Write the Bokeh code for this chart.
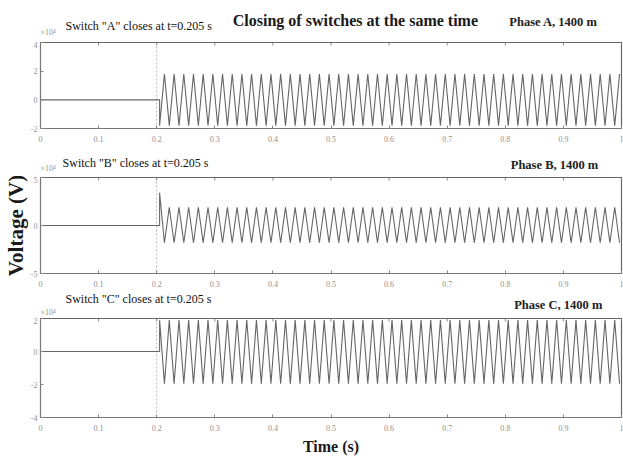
import math
from bokeh.plotting import figure
from bokeh.layouts import column
from bokeh.models import Range1d, FixedTicker, Span
from bokeh.core.properties import value
from bokeh.embed import file_html
from bokeh.resources import INLINE

# ---- data -------------------------------------------------------------
t_start = 0.0
t_end = 1.0
t_close = 0.205            # switch closing instant (s)
mains_freq = 60.0          # Hz
close_marker_t = 0.2       # dashed guide at the closing region

x_ticks = [0, 0.1, 0.2, 0.3, 0.4, 0.5, 0.6, 0.7, 0.8, 0.9, 1.0]
x_tick_labels = ["0", "0.1", "0.2", "0.3", "0.4", "0.5", "0.6", "0.7", "0.8", "0.9", "1"]

phases = ["A", "B", "C"]
pre_level = {"A": 0.0, "B": 0.0, "C": 0.0}         # voltage before closing (x10^4 V)
first_value = {"A": -1.8, "B": 3.4, "C": 1.9}      # value right at closing
peak = {"A": 1.8, "B": 1.9, "C": 1.9}              # steady-state positive peak
trough = {"A": -1.8, "B": -1.8, "C": -1.95}        # steady-state negative peak
first_sign = {"A": 1, "B": -1, "C": -1}            # which extreme follows the closing

y_limits = {"A": (-2, 4), "B": (-5, 5), "C": (-4, 2)}
y_ticks = {"A": [-2, 0, 2, 4], "B": [-5, 0, 5], "C": [-4, -2, 0, 2]}
switch_text = {p: 'Switch "%s" closes at t=0.205 s' % p for p in phases}
phase_text = {"A": "Phase A, 1400 m", "B": "Phase B, 1400 m", "C": "Phase C, 1400 m"}
title_text = "Closing of switches at the same time"
exp_text = "\u00d710\u2074"

# ---- layout (pixels) --------------------------------------------------
W = 623
LEFT, RIGHT = 40, 2
strip_h = {"A": 41, "B": 26, "C": 27}          # text band above each panel
frame_h = {"A": 86, "B": 96, "C": 99}
bottom_h = {"A": 22, "B": 17, "C": 44}
# text placement inside each band: (x in time units, y in px from band top)
sw_pos = {"A": (0.043, 25), "B": (0.038, 12), "C": (0.043, 8)}
ph_pos = {"A": (0.9587, 21), "B": (0.960, 14), "C": (0.967, 14)}
exp_pos = {"A": (0.0, 32), "B": (0.0, 18), "C": (0.0, 22)}
title_pos = (0.542, 20)

SERIF = "Liberation Serif"
LINE = "#666666"
TICK_TXT = "#8f8f8f"


def waveform(ph):
    """Pre-closing level, then alternating extremes every half cycle."""
    ts = [t_start, t_close, t_close]
    vs = [pre_level[ph], pre_level[ph], first_value[ph]]
    half = 1.0 / (2 * mains_freq)
    k = 1
    sign = first_sign[ph]
    while t_close + k * half <= t_end:
        ts.append(t_close + k * half)
        vs.append(peak[ph] if sign > 0 else trough[ph])
        sign = -sign
        k += 1
    return ts, vs


def style_axis(ax, ticks, labels, standoff):
    ax.ticker = FixedTicker(ticks=ticks)
    ax.major_tick_in = 3
    ax.major_tick_out = 0
    ax.minor_tick_line_color = None
    ax.axis_line_color = "#777777"
    ax.major_tick_line_color = "#888888"
    ax.major_label_text_font = SERIF
    ax.major_label_text_color = TICK_TXT
    ax.major_label_text_font_size = "8px"
    ax.major_label_standoff = standoff
    ax.major_label_overrides = {t: s for t, s in zip(ticks, labels)}


def band(ph):
    h = strip_h[ph]
    s = figure(width=W, height=h, output_backend="svg", toolbar_location=None,
               x_range=Range1d(t_start, t_end), y_range=Range1d(h, 0),
               x_axis_type=None, y_axis_type=None,
               min_border_left=LEFT, min_border_right=RIGHT,
               min_border_top=0, min_border_bottom=0,
               background_fill_color="white", border_fill_color="white")
    s.grid.visible = False
    s.outline_line_color = None
    sx, sy = sw_pos[ph]
    s.text(x=[sx], y=[sy], text=[switch_text[ph]], text_font=value(SERIF),
           text_font_size="12px", text_color="#111111",
           text_align="left", text_baseline="middle")
    px_, py_ = ph_pos[ph]
    s.text(x=[px_], y=[py_], text=[phase_text[ph]], text_font=value(SERIF),
           text_font_size="12.5px", text_font_style="bold", text_color="#222222",
           text_align="right", text_baseline="middle")
    ex, ey = exp_pos[ph]
    s.text(x=[ex], y=[ey], text=[exp_text], text_font=value(SERIF),
           text_font_size="8px", text_color=TICK_TXT,
           text_align="left", text_baseline="middle")
    return s


def panel(ph):
    lo, hi = y_limits[ph]
    h = 1 + frame_h[ph] + bottom_h[ph]
    p = figure(width=W, height=h, output_backend="svg", toolbar_location=None,
               x_range=Range1d(t_start, t_end), y_range=Range1d(lo, hi),
               min_border_left=LEFT, min_border_right=RIGHT,
               min_border_top=1, min_border_bottom=bottom_h[ph],
               background_fill_color="white", border_fill_color="white")
    p.grid.visible = False
    p.outline_line_color = "#666666"
    p.outline_line_width = 1.2
    style_axis(p.xaxis[0], x_ticks, x_tick_labels, 7)
    style_axis(p.yaxis[0], y_ticks[ph], [str(v) for v in y_ticks[ph]], 3)

    # inward tick marks along the top edge
    p.ray(x=x_ticks, y=[hi] * len(x_ticks), length=3, length_units="screen",
          angle=-math.pi / 2, line_color="#888888", line_width=1)

    p.add_layout(Span(location=close_marker_t, dimension="height", line_color="#b0b0b0",
                      line_dash="2 2", line_width=1, level="underlay"))
    ts, vs = waveform(ph)
    p.line(ts, vs, line_color=LINE, line_width=1.1)
    return p


bands = {ph: band(ph) for ph in phases}
panels = {ph: panel(ph) for ph in phases}

bands["A"].text(x=[title_pos[0]], y=[title_pos[1]], text=[title_text], text_font=value(SERIF),
                text_font_size="16px", text_font_style="bold", text_color="#1a1a1a",
                text_align="center", text_baseline="middle")

yb = panels["B"].yaxis[0]
yb.axis_label = "Voltage (V)"
yb.axis_label_text_font = SERIF
yb.axis_label_text_font_size = "21px"
yb.axis_label_text_font_style = "bold"
yb.axis_label_text_color = "#1a1a1a"
yb.axis_label_standoff = 0

xc = panels["C"].xaxis[0]
xc.axis_label = "Time (s)"
xc.axis_label_text_font = SERIF
xc.axis_label_text_font_size = "16px"
xc.axis_label_text_font_style = "bold"
xc.axis_label_text_color = "#1a1a1a"
xc.axis_label_standoff = 4

page = column(bands["A"], panels["A"], bands["B"], panels["B"], bands["C"], panels["C"],
              spacing=0)
open("out.html", "w").write(file_html(page, INLINE))
